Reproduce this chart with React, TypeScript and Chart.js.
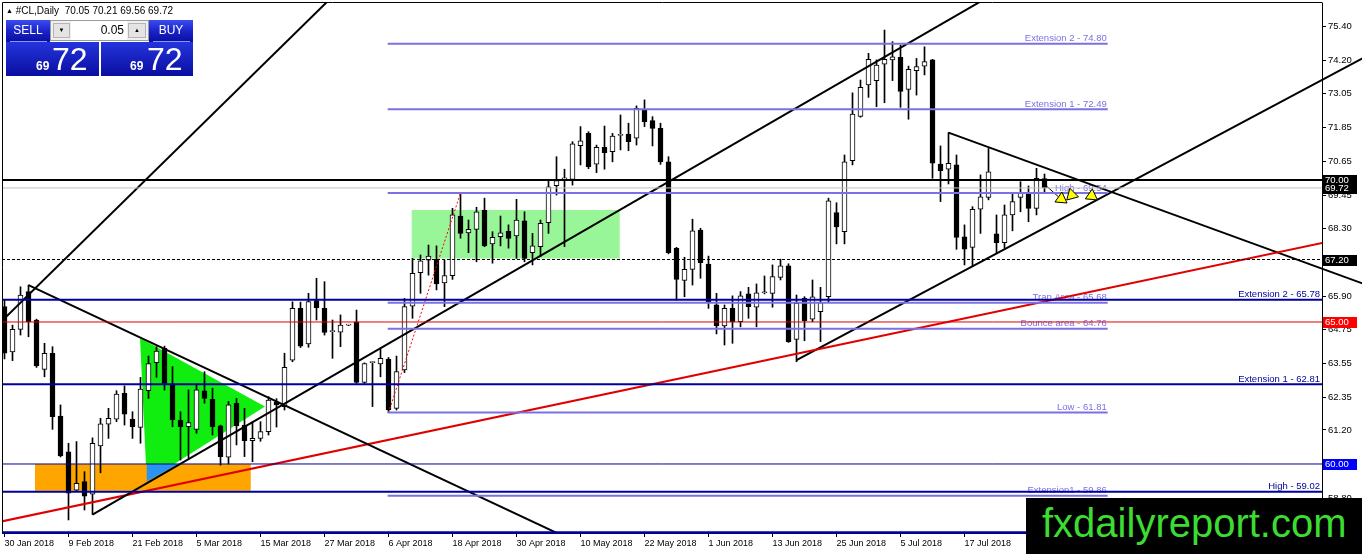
import React, { useEffect, useRef } from 'react';
import { Chart, registerables } from 'chart.js';

Chart.register(...registerables);

// ---------- DATA ----------
const opens = [65.54, 63.95, 64.74, 66.07, 65.07, 63.33, 63.90, 61.69, 60.43, 59.08, 59.38, 58.94, 60.64, 61.40, 61.58, 62.49, 61.58, 61.29, 62.58, 63.57, 64.07, 62.82, 61.55, 61.31, 61.22, 62.58, 62.28, 61.34, 60.24, 62.14, 61.37, 60.82, 60.90, 61.14, 62.19, 62.02, 63.66, 65.48, 64.23, 65.75, 65.48, 64.66, 64.64, 64.89, 65.01, 62.87, 63.57, 63.52, 63.69, 61.96, 63.31, 65.56, 66.74, 67.18, 67.21, 66.38, 66.63, 68.73, 68.14, 68.26, 68.94, 67.75, 68.00, 68.19, 68.03, 68.56, 67.44, 67.65, 68.50, 69.80, 70.04, 70.02, 71.21, 71.64, 70.56, 71.15, 71.00, 71.57, 71.62, 71.47, 72.49, 72.09, 71.82, 70.64, 67.59, 66.46, 66.85, 68.24, 67.04, 65.60, 64.86, 65.48, 65.01, 65.99, 65.52, 66.03, 66.01, 66.57, 66.98, 64.39, 65.83, 65.10, 65.36, 65.89, 68.85, 68.18, 70.68, 72.24, 73.35, 73.50, 74.08, 74.23, 74.32, 73.19, 73.85, 74.01, 74.23, 70.56, 70.38, 70.53, 68.00, 67.63, 68.97, 69.39, 68.10, 67.79, 68.77, 69.39, 69.51, 69.00, 70.05];
const highs = [65.80, 64.89, 66.24, 66.30, 65.10, 64.25, 64.13, 62.08, 60.73, 60.79, 59.73, 60.92, 61.61, 61.96, 62.58, 62.75, 61.84, 63.05, 63.80, 64.13, 64.15, 63.43, 61.84, 62.61, 62.78, 63.25, 62.67, 61.37, 62.20, 62.31, 61.96, 61.49, 61.49, 62.37, 62.30, 63.90, 65.71, 65.70, 66.01, 66.54, 66.42, 65.07, 65.25, 64.92, 65.42, 63.56, 63.60, 64.07, 63.75, 63.80, 65.83, 67.24, 67.36, 67.71, 67.68, 67.18, 69.00, 69.54, 68.59, 69.04, 69.36, 68.18, 68.73, 68.42, 69.32, 68.88, 68.12, 68.59, 70.00, 70.82, 70.38, 71.35, 71.88, 71.70, 71.23, 71.90, 71.64, 72.29, 72.00, 72.61, 72.82, 72.23, 72.00, 70.82, 67.63, 67.28, 68.62, 68.30, 67.32, 66.01, 65.60, 65.92, 66.07, 66.22, 66.34, 66.62, 67.01, 67.21, 67.05, 65.95, 65.89, 66.48, 66.22, 69.36, 69.20, 70.88, 73.07, 73.52, 74.46, 74.23, 75.28, 74.87, 74.75, 74.01, 74.28, 74.69, 74.25, 71.20, 71.67, 70.88, 68.42, 69.06, 70.18, 71.11, 68.77, 69.12, 69.53, 69.94, 69.79, 70.41, 70.21];
const lows = [63.70, 63.64, 64.54, 64.48, 63.40, 63.07, 61.22, 60.25, 58.03, 59.03, 58.38, 58.22, 59.69, 60.90, 61.49, 61.37, 60.90, 60.73, 62.31, 63.05, 62.60, 61.31, 60.14, 60.20, 61.08, 62.14, 61.02, 59.96, 60.00, 60.67, 60.26, 60.08, 60.80, 61.02, 61.30, 61.90, 63.60, 64.10, 64.11, 65.07, 64.54, 63.72, 64.13, 64.87, 62.84, 62.84, 62.02, 63.07, 61.81, 61.90, 63.22, 65.13, 66.01, 66.65, 66.13, 65.54, 66.50, 67.95, 67.44, 67.12, 67.65, 67.07, 67.68, 67.60, 67.24, 67.12, 67.01, 67.30, 68.12, 69.47, 67.65, 69.82, 70.53, 70.40, 70.26, 70.38, 70.64, 71.06, 71.03, 71.23, 71.88, 71.20, 70.55, 67.40, 65.77, 65.89, 66.30, 66.54, 65.48, 64.58, 64.19, 64.25, 64.83, 65.13, 64.83, 65.99, 65.52, 66.48, 64.28, 63.60, 64.34, 65.01, 64.31, 65.71, 67.75, 67.75, 70.53, 72.21, 72.91, 72.58, 72.72, 73.50, 72.56, 72.14, 72.99, 73.70, 70.06, 69.24, 69.86, 67.56, 67.01, 66.97, 68.12, 69.30, 67.42, 67.60, 68.21, 68.88, 68.53, 68.77, 69.56];
const closes = [63.90, 64.74, 65.95, 65.01, 63.45, 63.90, 61.67, 60.28, 58.97, 59.32, 58.87, 60.73, 61.41, 61.61, 62.46, 61.75, 61.31, 62.64, 63.54, 63.98, 62.84, 61.55, 61.31, 61.46, 62.61, 62.31, 61.31, 60.26, 62.08, 61.34, 60.82, 60.90, 61.14, 62.25, 62.08, 63.40, 65.48, 64.15, 65.72, 65.50, 64.63, 64.68, 64.89, 64.90, 62.87, 63.54, 63.58, 63.72, 61.90, 63.25, 65.54, 66.71, 67.15, 67.32, 66.34, 66.63, 68.77, 68.12, 68.26, 68.88, 67.68, 67.98, 68.14, 67.94, 68.59, 67.24, 67.68, 68.47, 69.76, 69.98, 70.06, 71.27, 71.38, 70.47, 71.15, 70.96, 71.55, 71.58, 71.35, 72.52, 72.05, 71.82, 70.64, 67.44, 66.50, 66.85, 68.21, 67.09, 65.71, 64.86, 65.48, 65.01, 65.92, 65.54, 66.03, 66.04, 66.60, 66.98, 64.31, 65.66, 65.05, 65.89, 65.68, 69.27, 68.35, 70.64, 72.32, 73.26, 74.25, 74.05, 74.25, 74.34, 73.12, 73.90, 73.99, 74.17, 70.59, 70.33, 70.59, 67.98, 67.56, 68.97, 69.41, 70.29, 67.79, 68.77, 69.24, 69.53, 69.00, 70.06, 69.72];

const dateLabels = ['30 Jan 2018', '9 Feb 2018', '21 Feb 2018', '5 Mar 2018', '15 Mar 2018', '27 Mar 2018', '6 Apr 2018', '18 Apr 2018', '30 Apr 2018', '10 May 2018', '22 May 2018', '1 Jun 2018', '13 Jun 2018', '25 Jun 2018', '5 Jul 2018', '17 Jul 2018'];
const dateLabelBars = [0, 8, 16, 24, 32, 40, 48, 56, 64, 72, 80, 88, 96, 104, 112, 120];
const priceTicks = [58.80, 60.00, 61.20, 62.35, 63.55, 64.75, 65.90, 67.10, 68.30, 69.45, 70.65, 71.85, 73.05, 74.20, 75.40];

const levelPrices = [70.00, 69.72, 67.20, 65.78, 65.00, 62.81, 60.00, 59.02, 57.60];
const levelTexts = ['', '', '', 'Extension 2 - 65.78', '', 'Extension 1 - 62.81', '', 'High - 59.02', ''];

const fibPrices = [74.80, 72.49, 69.54, 65.68, 64.76, 61.81, 58.88];
const fibTexts = ['Extension 2 - 74.80', 'Extension 1 - 72.49', 'High - 69.54', 'Trap Area - 65.68', 'Bounce area - 64.76', 'Low - 61.81', 'Extension1 - 59.86'];
const fibFromBar = 47.9;
const fibToBar = 137.9;

const tagPrices = [70.00, 69.72, 67.20, 65.00, 60.00];

const steepLine = [[-2, 64.57], [44, 77.29]];
const supportLine = [[11, 58.22], [124, 76.61]];
const fallingLine = [[3, 66.30], [72, 57.18]];
const redTrend = [[-1, 57.94], [166, 67.86]];
const riseLine2 = [[99, 63.66], [170, 74.32]];
const fallLine2 = [[118, 71.67], [170, 66.33]];
const fibBase = [[48, 61.81], [57, 69.54]];
const arrowShaft = [[130.2, 69.80], [131.7, 69.42]];

const orangeBox = [[3.81, 60.00], [30.78, 60.00], [30.78, 59.06], [3.81, 59.06]];
const greenBox = [[50.9, 68.94], [76.9, 68.94], [76.9, 67.24], [50.9, 67.24]];
const limeTriangle = [[16.94, 64.44], [17.78, 59.38], [32.56, 62.02]];
const blueTriangle = [[17.78, 60.00], [21.7, 60.00], [17.78, 59.38]];

const arrowPoints = [[132.1, 69.33], [133.4, 69.47], [135.9, 69.44]];

// ---------- STYLE ----------
const FAMILY = '"Liberation Sans", Arial, sans-serif';
const NAVY = '#00009a';
const FIB = '#7b70e4';

const xy = (pts: number[][]) => pts.map(([x, y]) => ({ x, y }));

function lineDs(pts: number[][], color: string, width: number, extra: any = {}) {
  return {
    type: 'line',
    data: xy(pts),
    borderColor: color,
    borderWidth: width,
    pointRadius: 0,
    pointHoverRadius: 0,
    fill: false,
    tension: 0,
    order: 1,
    ...extra,
  };
}

function shapeDs(pts: number[][], color: string, order: number) {
  return {
    type: 'line',
    data: xy(pts),
    borderColor: 'rgba(0,0,0,0)',
    borderWidth: 0,
    backgroundColor: color,
    fill: 'shape',
    pointRadius: 0,
    pointHoverRadius: 0,
    tension: 0,
    order,
  };
}

const levelStyles = [
  { c: '#000000', w: 2 },
  { c: '#c0c0c0', w: 1 },
  { c: '#000000', w: 1, d: [3, 2] },
  { c: NAVY, w: 2 },
  { c: '#e00000', w: 1 },
  { c: NAVY, w: 2 },
  { c: NAVY, w: 1 },
  { c: NAVY, w: 2 },
  { c: NAVY, w: 2 },
];
const tagColors = ['#000000', '#000000', '#000000', '#ff0000', '#0000ff'];

const X_MIN = -0.1875;
const X_MAX = 164.6875;

const zeroPad = (s: any) => {
  s.paddingTop = 0;
  s.paddingBottom = 0;
  s.paddingLeft = 0;
  s.paddingRight = 0;
};

const overlayPlugin = {
  id: 'mtOverlay',
  beforeDatasetsDraw(chart: any) {
    const { ctx, chartArea, scales } = chart;
    const x = scales.x;
    const y = scales.y;
    ctx.save();
    ctx.font = `9.5px ${FAMILY}`;
    ctx.textAlign = 'right';
    ctx.textBaseline = 'alphabetic';
    ctx.fillStyle = FIB;
    fibPrices.forEach((p, k) => {
      ctx.fillText(fibTexts[k], x.getPixelForValue(fibToBar) - 1, y.getPixelForValue(p) - 2.5);
    });
    ctx.fillStyle = NAVY;
    levelPrices.forEach((p, k) => {
      if (levelTexts[k]) ctx.fillText(levelTexts[k], chartArea.right - 2, y.getPixelForValue(p) - 2.5);
    });
    ctx.restore();
  },
  afterDraw(chart: any) {
    const { ctx, chartArea, scales } = chart;
    const y = scales.y;
    ctx.save();
    ctx.strokeStyle = '#000';
    ctx.lineWidth = 1;
    ctx.beginPath();
    ctx.moveTo(chartArea.left - 0.5, chartArea.bottom);
    ctx.lineTo(chartArea.left - 0.5, chartArea.top - 0.5);
    ctx.lineTo(chartArea.right + 0.5, chartArea.top - 0.5);
    ctx.stroke();
    ctx.font = `9.5px ${FAMILY}`;
    ctx.textAlign = 'left';
    ctx.textBaseline = 'middle';
    tagPrices.forEach((p, k) => {
      const yy = Math.round(y.getPixelForValue(p));
      ctx.fillStyle = tagColors[k];
      ctx.fillRect(chartArea.right + 1, yy - 5, 34, 11);
      ctx.fillStyle = '#ffffff';
      ctx.fillText(p.toFixed(2), chartArea.right + 3, yy + 0.5);
    });
    ctx.restore();
  },
};

function buildConfig(): any {
  const bodies = closes.map((c, i) => ({ x: i, y: [opens[i], c] }));
  const wicks = highs.map((h, i) => ({ x: i, y: [lows[i], h] }));

  const datasets: any[] = [];
  datasets.push({
    type: 'line',
    data: xy(arrowPoints),
    showLine: false,
    pointStyle: 'triangle',
    pointRadius: 7,
    pointHoverRadius: 7,
    pointRotation: [125, -15, 125],
    pointBackgroundColor: '#ffff00',
    pointBorderColor: '#000000',
    pointBorderWidth: 1,
    order: 0,
  });
  levelPrices.forEach((p, k) => {
    const s = levelStyles[k];
    datasets.push(lineDs([[X_MIN - 2, p], [X_MAX + 2, p]], s.c, s.w, s.d ? { borderDash: s.d } : {}));
  });
  fibPrices.forEach((p) => {
    datasets.push(lineDs([[fibFromBar, p], [fibToBar, p]], FIB, 2));
  });
  const over = { clip: { left: 0, top: 0, right: 45, bottom: 0 } };
  datasets.push(lineDs(steepLine, '#000', 2));
  datasets.push(lineDs(supportLine, '#000', 2));
  datasets.push(lineDs(fallingLine, '#000', 2));
  datasets.push(lineDs(redTrend, '#e00000', 2));
  datasets.push(lineDs(riseLine2, '#000', 2, over));
  datasets.push(lineDs(fallLine2, '#000', 2, over));
  datasets.push(lineDs(fibBase, '#ff0000', 1, { borderDash: [2, 2] }));
  datasets.push(lineDs(arrowShaft, '#000', 1));
  datasets.push({
    type: 'bar',
    data: bodies,
    barThickness: 5,
    grouped: false,
    borderWidth: 1,
    borderColor: '#000000',
    borderSkipped: false,
    minBarLength: 1,
    backgroundColor: (c: any) => (closes[c.dataIndex] >= opens[c.dataIndex] ? '#ffffff' : '#000000'),
    order: 2,
  });
  datasets.push({
    type: 'bar',
    data: wicks,
    barThickness: 1,
    grouped: false,
    borderWidth: 0,
    backgroundColor: '#000000',
    order: 3,
  });
  datasets.push(shapeDs(blueTriangle, '#2a95f0', 5));
  datasets.push(shapeDs(greenBox, '#98f598', 6));
  datasets.push(shapeDs(orangeBox, '#ffa500', 6));
  datasets.push(shapeDs(limeTriangle, '#10ee10', 7));

  return {
    type: 'bar',
    data: { datasets },
    options: {
      animation: false,
      responsive: false,
      events: [],
      layout: { autoPadding: false, padding: { left: 3, top: 3, right: 0, bottom: 0 } },
      plugins: { legend: { display: false }, tooltip: { enabled: false } },
      scales: {
        x: {
          type: 'linear',
          position: 'bottom',
          min: X_MIN,
          max: X_MAX,
          offset: false,
          afterBuildTicks: (s: any) => {
            s.ticks = dateLabelBars.map((v) => ({ value: v }));
          },
          afterFit: (s: any) => {
            s.height = 21;
            zeroPad(s);
          },
          ticks: {
            autoSkip: false,
            maxRotation: 0,
            minRotation: 0,
            align: 'start',
            padding: 1,
            color: '#000',
            font: { family: FAMILY, size: 9 },
            callback: (v: any) => {
              const k = dateLabelBars.indexOf(Number(v));
              return k >= 0 ? dateLabels[k] : '';
            },
          },
          grid: { display: true, drawOnChartArea: false, drawTicks: true, tickLength: 4, color: '#000', offset: false },
          border: { display: true, color: NAVY, width: 2 },
        },
        y: {
          type: 'linear',
          position: 'right',
          min: 57.57,
          max: 76.2324,
          afterBuildTicks: (s: any) => {
            s.ticks = priceTicks.map((v) => ({ value: v }));
          },
          afterFit: (s: any) => {
            s.width = 40;
            zeroPad(s);
          },
          ticks: {
            padding: 2,
            color: '#000',
            font: { family: FAMILY, size: 9.5 },
            callback: (v: any) => Number(v).toFixed(2),
          },
          grid: { display: true, drawOnChartArea: false, drawTicks: true, tickLength: 4, color: '#000' },
          border: { display: true, color: '#000', width: 1 },
        },
      },
    },
    plugins: [overlayPlugin],
  };
}

const blueGrad = 'linear-gradient(to bottom, #3a4cf0 0%, #1a24c8 50%, #0a0ea0 100%)';
const last = closes.length - 1;
const headerText = `#CL,Daily  ${opens[last].toFixed(2)} ${highs[last].toFixed(2)} ${lows[last].toFixed(2)} ${closes[last].toFixed(2)}`;
const bidStr = closes[last].toFixed(2);
const bidBig = bidStr.slice(0, 2);
const bidSmall = bidStr.slice(3);

export default function App() {
  const ref = useRef<HTMLCanvasElement>(null);
  useEffect(() => {
    Chart.defaults.font.family = FAMILY;
    const canvas = ref.current;
    if (!canvas) return;
    const chart = new Chart(canvas, buildConfig());
    return () => chart.destroy();
  }, []);

  const abs = (l: number, t: number, w?: number, h?: number, extra: any = {}) => ({
    position: 'absolute' as const,
    left: l,
    top: t,
    ...(w !== undefined ? { width: w } : {}),
    ...(h !== undefined ? { height: h } : {}),
    ...extra,
  });

  return (
    <div style={{ position: 'absolute', left: 0, top: 0, width: 1362, height: 554, background: '#fff', overflow: 'hidden', fontFamily: FAMILY }}>
      <canvas ref={ref} width={1362} height={554} style={{ position: 'absolute', left: 0, top: 0, width: 1362, height: 554 }} />

      <div style={abs(6, 5, undefined, undefined, { fontSize: 10, lineHeight: '12px', color: '#000', whiteSpace: 'pre' })}>
        <span style={{ fontSize: 7, position: 'relative', top: -1 }}>▲</span> {headerText}
      </div>

      <div style={abs(6, 20, 44, 22, { background: blueGrad, color: '#fff', fontSize: 12, lineHeight: '21px', textAlign: 'center' })}>SELL</div>
      <div style={abs(10, 41, 37, 1, { background: '#8a94f8' })} />
      <div style={abs(149, 20, 44, 22, { background: blueGrad, color: '#fff', fontSize: 12, lineHeight: '21px', textAlign: 'center' })}>BUY</div>
      <div style={abs(153, 41, 37, 1, { background: '#8a94f8' })} />

      <div style={abs(50, 20, 99, 21, { background: '#f0f0f0', border: '1px solid #9c9c9c', boxSizing: 'border-box' })}>
        <div style={abs(2, 2, 17, 15, { background: '#e4e4e4', border: '1px solid #b4b4b4', boxSizing: 'border-box', fontSize: 6, lineHeight: '13px', textAlign: 'center', color: '#000' })}>▼</div>
        <div style={abs(20, 0, 56, 19, { background: '#fff', fontSize: 12, lineHeight: '19px', textAlign: 'right', paddingRight: 3, boxSizing: 'border-box', color: '#000' })}>0.05</div>
        <div style={abs(77, 2, 18, 15, { background: '#e4e4e4', border: '1px solid #b4b4b4', boxSizing: 'border-box', fontSize: 6, lineHeight: '13px', textAlign: 'center', color: '#000' })}>▲</div>
      </div>

      <div style={abs(6, 42, 93, 34, { background: 'linear-gradient(to bottom, #2434dc, #0a0ea0)', color: '#fff' })}>
        <div style={abs(30, 18, undefined, undefined, { fontSize: 12, fontWeight: 'bold', lineHeight: '12px' })}>{bidBig}</div>
        <div style={abs(46, 1, undefined, undefined, { fontSize: 32, lineHeight: '32px' })}>{bidSmall}</div>
      </div>
      <div style={abs(101, 42, 92, 34, { background: 'linear-gradient(to bottom, #2434dc, #0a0ea0)', color: '#fff' })}>
        <div style={abs(29, 18, undefined, undefined, { fontSize: 12, fontWeight: 'bold', lineHeight: '12px' })}>{bidBig}</div>
        <div style={abs(46, 1, undefined, undefined, { fontSize: 32, lineHeight: '32px' })}>{bidSmall}</div>
      </div>

      <div style={abs(1026, 498, 336, 56, { background: '#000' })}>
        <div style={abs(16, 5, undefined, undefined, { fontSize: 40, lineHeight: '40px', color: '#3cdc32', whiteSpace: 'nowrap' })}>fxdailyreport.com</div>
      </div>
    </div>
  );
}
